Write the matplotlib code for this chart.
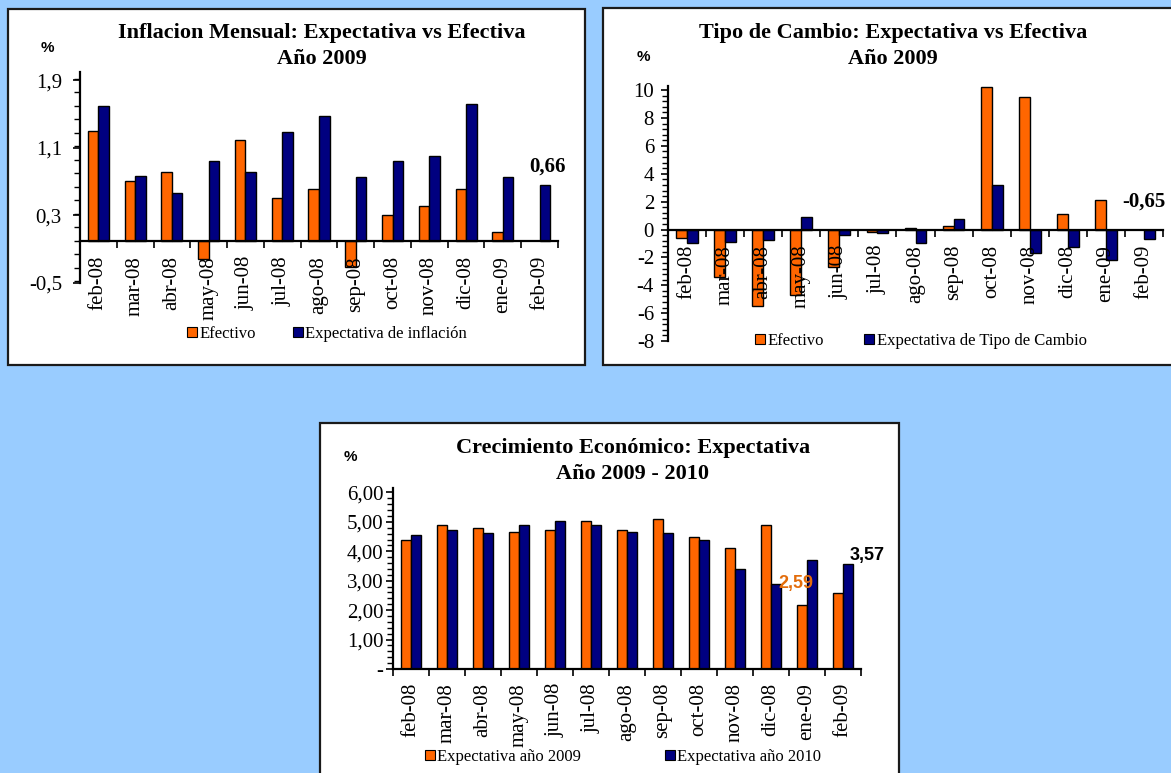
"""Three Excel-style bar panels: inflation, exchange rate and growth
expectations vs. actual values (feb-08 .. feb-09)."""
import numpy as np
import matplotlib
matplotlib.use("Agg")
import matplotlib.pyplot as plt
from matplotlib.patches import Rectangle, Patch
from matplotlib.ticker import MultipleLocator

W, H = 1171, 773
BG = "#99ccff"
ORANGE = "#ff6600"
NAVY = "#000080"
SERIF = "Liberation Serif"
SANS = "Liberation Sans"

MONTHS = ["feb-08", "mar-08", "abr-08", "may-08", "jun-08", "jul-08", "ago-08",
          "sep-08", "oct-08", "nov-08", "dic-08", "ene-09", "feb-09"]

# inflacion mensual (%)
INFL_EFECTIVO = [1.30, 0.71, 0.81, -0.21, 1.20, 0.51, 0.61, -0.31, 0.31, 0.41, 0.61, 0.10, np.nan]
INFL_EXPECT = [1.60, 0.77, 0.57, 0.95, 0.81, 1.29, 1.48, 0.75, 0.95, 1.01, 1.62, 0.75, 0.66]
INFL_TICKS = [-0.5, 0.3, 1.1, 1.9]
INFL_TICK_LABELS = ["-0,5", "0,3", "1,1", "1,9"]

# tipo de cambio (%)
TC_EFECTIVO = [-0.6, -3.4, -5.5, -4.7, -2.7, -0.15, 0.12, 0.24, 10.24, 9.52, 1.15, 2.13, np.nan]
TC_EXPECT = [-1.0, -0.9, -0.77, 0.93, -0.4, -0.28, -1.0, 0.72, 3.2, -1.72, -1.24, -2.2, -0.65]
TC_TICKS = [-8, -6, -4, -2, 0, 2, 4, 6, 8, 10]
TC_TICK_LABELS = ["-8", "-6", "-4", "-2", "0", "2", "4", "6", "8", "10"]

# crecimiento economico (%)
PIB_2009 = [4.38, 4.89, 4.79, 4.67, 4.73, 5.02, 4.73, 5.08, 4.49, 4.10, 4.89, 2.18, 2.59]
PIB_2010 = [4.56, 4.73, 4.61, 4.89, 5.02, 4.89, 4.67, 4.61, 4.38, 3.40, 2.88, 3.69, 3.57]
PIB_TICKS = [0, 1, 2, 3, 4, 5, 6]
PIB_TICK_LABELS = ["-", "1,00", "2,00", "3,00", "4,00", "5,00", "6,00"]


def fx(x):
    return x / W


def fy(y):
    return 1 - y / H


def panel(fig, x0, y0, x1, y1):
    fig.add_artist(Rectangle((fx(x0), fy(y1)), fx(x1 - x0), (y1 - y0) / H,
                             transform=fig.transFigure, facecolor="white",
                             edgecolor="#1a1a1a", linewidth=1.6, zorder=0))


def px_axes(fig, left, top, right, bottom):
    ax = fig.add_axes([fx(left), fy(bottom), fx(right - left), (bottom - top) / H])
    ax.patch.set_alpha(0)
    return ax


def bars(ax, a, b, ticks, labels, ylim, minor, pad=11, ypad=3):
    x = np.arange(len(MONTHS))
    w = 1 / 3.5
    ax.bar(x - w / 2, a, w, color=ORANGE, edgecolor="black", linewidth=1)
    ax.bar(x + w / 2, b, w, color=NAVY, edgecolor="black", linewidth=1)
    for s in ("top", "right"):
        ax.spines[s].set_visible(False)
    for s in ("left", "bottom"):
        ax.spines[s].set_linewidth(1.6)
    ax.spines["bottom"].set_position(("data", 0))
    ax.set_xlim(-0.5, len(MONTHS) - 0.5)
    ax.set_ylim(*ylim)
    ax.set_yticks(ticks, labels, fontfamily=SERIF, fontsize=15)
    ax.yaxis.set_minor_locator(MultipleLocator(minor))
    ax.set_xticks(x, MONTHS, rotation=90, fontfamily=SERIF, fontsize=15)
    ax.set_xticks(np.arange(len(MONTHS) + 1) - 0.5, minor=True)
    ax.tick_params(axis="x", which="major", length=0, pad=pad)
    ax.tick_params(axis="x", which="minor", length=5, width=1.2)
    ax.tick_params(axis="y", which="major", length=5, width=1.2, pad=ypad)
    ax.tick_params(axis="y", which="minor", length=4, width=1)


def legend(ax, names, cx, cy, spacing):
    handles = [Patch(facecolor=ORANGE, edgecolor="black", linewidth=0.8),
               Patch(facecolor=NAVY, edgecolor="black", linewidth=0.8)]
    ax.legend(handles, names, loc="center", bbox_to_anchor=(fx(cx), fy(cy)),
              bbox_transform=ax.figure.transFigure, ncol=2, frameon=False,
              handlelength=0.6, handleheight=0.6, handletextpad=0.15,
              columnspacing=spacing, prop={"family": SERIF, "size": 12})


def main():
    fig = plt.figure(figsize=(W / 100, H / 100), dpi=100, facecolor=BG)

    panel(fig, 8, 9, 585, 365)
    panel(fig, 603, 8, 1175, 365)
    panel(fig, 320, 423, 899, 780)

    title_kw = dict(ha="center", va="center", fontfamily=SERIF, fontweight="bold",
                    fontsize=16, linespacing=1.35)
    pct_kw = dict(ha="center", va="center", fontfamily=SANS, fontweight="bold", fontsize=11)
    val_kw = dict(textcoords="offset points", ha="center", fontweight="bold")

    # inflacion
    ax1 = px_axes(fig, 80, 72, 558, 283)
    bars(ax1, INFL_EFECTIVO, INFL_EXPECT, INFL_TICKS, INFL_TICK_LABELS, (-0.5, 2.0), 0.16,
         ypad=8)
    fig.text(fx(322), fy(46), "Inflacion Mensual: Expectativa vs Efectiva\nAño 2009", **title_kw)
    fig.text(fx(47), fy(48), "%", **pct_kw)
    ax1.annotate("0,66", xy=(12 + 1 / 7, INFL_EXPECT[-1]), xytext=(2, 6), va="bottom",
                 fontfamily=SERIF, fontsize=15, **val_kw)
    legend(ax1, ["Efectivo", "Expectativa de inflación"], 327, 334, 2.2)

    # tipo de cambio
    ax2 = px_axes(fig, 668, 86, 1163, 341)
    bars(ax2, TC_EFECTIVO, TC_EXPECT, TC_TICKS, TC_TICK_LABELS, (-8, 10.3), 0.4, ypad=5)
    fig.text(fx(893), fy(46), "Tipo de Cambio: Expectativa vs Efectiva\nAño 2009", **title_kw)
    fig.text(fx(643), fy(57), "%", **pct_kw)
    ax2.annotate("-0,65", xy=(12 + 1 / 7, 0), xytext=(-4, 13), va="bottom",
                 fontfamily=SERIF, fontsize=15, **val_kw)
    legend(ax2, ["Efectivo", "Expectativa de Tipo de Cambio"], 921, 341, 2.4)

    # crecimiento
    ax3 = px_axes(fig, 393, 488, 861, 669)
    bars(ax3, PIB_2009, PIB_2010, PIB_TICKS, PIB_TICK_LABELS, (0, 6.15), 0.2, pad=10, ypad=2)
    fig.text(fx(633), fy(461), "Crecimiento Económico: Expectativa\nAño 2009 - 2010", **title_kw)
    fig.text(fx(350), fy(457), "%", **pct_kw)
    ax3.annotate("3,57", xy=(12 + 1 / 7, PIB_2010[-1]), xytext=(14, 6), va="center",
                 fontfamily=SANS, fontsize=13, **val_kw)
    ax3.annotate("2,59", xy=(12 - 1 / 7, PIB_2009[-1]), xytext=(-30, 7), va="center",
                 color="#e36c0a", fontfamily=SANS, fontsize=13, **val_kw)
    legend(ax3, ["Expectativa año 2009", "Expectativa año 2010"], 623, 757, 5.0)

    fig.savefig("out.png", dpi=100, facecolor=BG)


if __name__ == "__main__":
    main()
